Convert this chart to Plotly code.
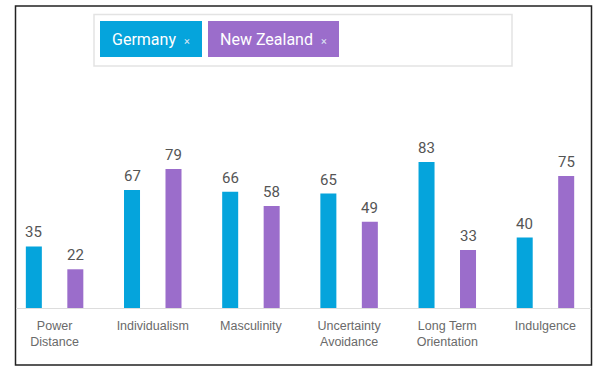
import plotly.graph_objects as go

categories = ["Power<br>Distance", "Individualism", "Masculinity",
              "Uncertainty<br>Avoidance", "Long Term<br>Orientation", "Indulgence"]
germany = [35, 67, 66, 65, 83, 40]
new_zealand = [22, 79, 58, 49, 33, 75]
series_names = ["Germany", "New Zealand"]

BLUE = "#05A4DC"
PURPLE = "#9B6DCB"

W, H = 596, 368
ML, MR, MT, MB = 16, 5, 132, 60
PW, PH = W - ML - MR, H - MT - MB


def px(x):
    return (x - ML) / PW


def py(y):
    return (H - MB - y) / PH


fig = go.Figure()
for name, vals, col in [(series_names[0], germany, BLUE), (series_names[1], new_zealand, PURPLE)]:
    fig.add_trace(go.Bar(x=list(range(len(categories))), y=vals, name=name,
                         marker=dict(color=col, line=dict(width=0)),
                         hoverinfo="skip"))

# value labels
for vals, sh in [(germany, -20.75), (new_zealand, 20.75)]:
    for i, v in enumerate(vals):
        fig.add_annotation(x=i, y=v, xref="x", yref="y", text=str(v), showarrow=False,
                           xshift=sh, yshift=3, yanchor="bottom",
                           font=dict(family="Roboto", size=15, color="#555555"))

shapes = [
    # outer frame
    dict(type="rect", xref="paper", yref="paper", x0=px(15.5), x1=px(591.5), y0=py(365), y1=py(6),
         line=dict(color="#222222", width=1.5), fillcolor="rgba(0,0,0,0)", layer="below"),
    # filter box
    dict(type="rect", xref="paper", yref="paper", x0=px(94), x1=px(512), y0=py(66), y1=py(14.5),
         line=dict(color="#e3e3e3", width=1.5), fillcolor="white", layer="below"),
    dict(type="rect", xref="paper", yref="paper", x0=px(100), x1=px(202), y0=py(57), y1=py(21),
         line=dict(width=0), fillcolor=BLUE, layer="below"),
    dict(type="rect", xref="paper", yref="paper", x0=px(208), x1=px(339), y0=py(57), y1=py(21),
         line=dict(width=0), fillcolor=PURPLE, layer="below"),
]

for name, cx in [(series_names[0], 151), (series_names[1], 273.5)]:
    fig.add_annotation(x=px(cx), y=py(39.5), xref="paper", yref="paper", showarrow=False,
                       text=name + "  <span style='font-size:11px;color:#dde6f5'>×</span>",
                       font=dict(family="Roboto", size=16, color="white"),
                       xanchor="center", yanchor="middle")

fig.update_layout(
    width=W, height=H, margin=dict(l=ML, r=MR, t=MT, b=MB),
    paper_bgcolor="white", plot_bgcolor="white",
    barmode="group", bargap=0.155, bargroupgap=0.614,
    showlegend=False, shapes=shapes,
    xaxis=dict(tickmode="array", tickvals=list(range(len(categories))), ticktext=categories,
               range=[-0.393, 5.464], showline=True, linecolor="#dddddd", linewidth=1,
               showgrid=False, zeroline=False, ticks="", fixedrange=True,
               ticklabelstandoff=6,
               tickfont=dict(family="Liberation Sans, Arial", size=12.5, color="#6a6a6a")),
    yaxis=dict(range=[0, 100], showgrid=False, zeroline=False, showticklabels=False,
               showline=False, fixedrange=True),
)

fig.write_html("out.html", config={"displayModeBar": False},
               post_script="document.body.style.margin='0';document.body.style.overflow='hidden';")
